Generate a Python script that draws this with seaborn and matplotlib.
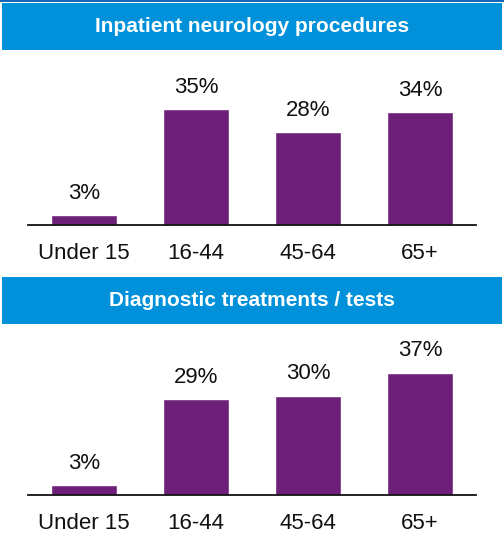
import pandas as pd
import matplotlib.pyplot as plt
import seaborn as sns
from matplotlib.patches import Rectangle

# Age groups and the share (%) of each group in the two charts
age_groups = ['Under 15', '16-44', '45-64', '65+']
procedures = [3, 35, 28, 34]
diagnostics = [3, 29, 30, 37]
titles = ['Inpatient neurology procedures', 'Diagnostic treatments / tests']

purple = '#6d2077'
blue = '#0091da'

sns.set_theme(style='white')
plt.rcParams['font.family'] = ['Liberation Sans', 'DejaVu Sans']

W, H = 504, 540
fig = plt.figure(figsize=(W / 100, H / 100), dpi=100)


def px_box(x0, y0, x1, y1):
    # pixel box (top-left origin) -> figure fraction [left, bottom, width, height]
    return [x0 / W, 1 - y1 / H, (x1 - x0) / W, (y1 - y0) / H]


# thin dark line at the very top
fig.add_artist(Rectangle((0, 1 - 2 / H), 1, 2 / H, transform=fig.transFigure,
                         color='#1566b5', lw=0))

# blue title banners
banners = [(3, 50), (277, 324)]
for (y0, y1), title in zip(banners, titles):
    l, b, w, h = px_box(2, y0, 502, y1)
    fig.add_artist(Rectangle((l, b), w, h, transform=fig.transFigure,
                             color=blue, lw=0))
    fig.text(0.5, b + h / 2, title, ha='center', va='center',
             color='white', fontsize=15, fontweight='bold')

px_per_pct = 3.31
panels = [(procedures, 55, 225), (diagnostics, 327, 495)]

for values, top, base in panels:
    ax = fig.add_axes(px_box(28, top, 476, base))
    df = pd.DataFrame({'age': age_groups, 'pct': values})
    sns.barplot(data=df, x='age', y='pct', color=purple, saturation=1,
                width=0.59, ax=ax)
    ax.set_xlim(-0.5, 3.5)
    ax.set_ylim(0, (base - top) / px_per_pct)
    for i, v in enumerate(values):
        ax.text(i, v + 3.4, f'{v}%', ha='center', va='bottom',
                fontsize=16, color='#111111')
    ax.set_xlabel('')
    ax.set_ylabel('')
    ax.set_yticks([])
    ax.tick_params(axis='x', length=0, pad=13, labelsize=16,
                   labelcolor='#111111')
    for s in ['top', 'left', 'right']:
        ax.spines[s].set_visible(False)
    ax.spines['bottom'].set_color('#111111')
    ax.spines['bottom'].set_linewidth(1.3)
    ax.patch.set_alpha(0)

fig.savefig('out.png', dpi=100)
